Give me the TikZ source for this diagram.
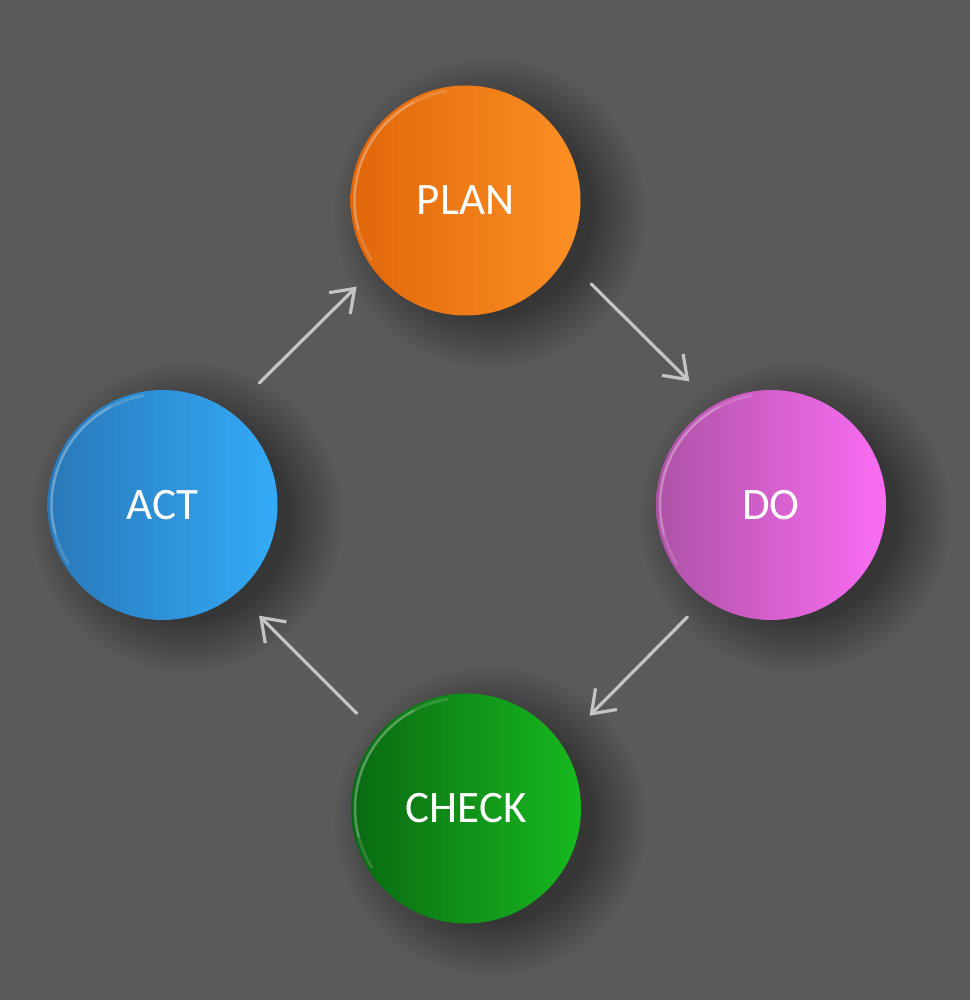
\documentclass[tikz,border=0pt]{standalone}
\usepackage{fontspec}
\setmainfont{Carlito}
\usetikzlibrary{arrows.meta}
\definecolor{bg}{HTML}{5A5A5A}
\definecolor{shadowc}{HTML}{363636}
\definecolor{arrowc}{HTML}{C4C4C4}
\definecolor{planL}{HTML}{E0660A}
\definecolor{planR}{HTML}{FC9024}
\definecolor{doL}{HTML}{AE52A6}
\definecolor{doR}{HTML}{FB6DF4}
\definecolor{checkL}{HTML}{0A6912}
\definecolor{checkR}{HTML}{17B91F}
\definecolor{actL}{HTML}{2978B8}
\definecolor{actR}{HTML}{34ABF8}
\pgfdeclareradialshading{glow}{\pgfpoint{0bp}{0bp}}{color(0bp)=(shadowc); color(16bp)=(shadowc); color(25bp)=(bg); color(50bp)=(bg)}
\tikzset{
  disc/.style={circle, minimum size=230pt, inner sep=0pt, outer sep=0pt, text=white,
    font=\fontsize{45}{54}\selectfont},
  flow/.style={draw=arrowc, line width=3.2pt, line cap=round,
    -{Straight Barb[length=21pt, width=30pt, line width=3.2pt]}},
  hl/.style={draw=white, line cap=round},
  shadowdisc/.style={shading=glow}
}
\begin{document}
\begin{tikzpicture}[x=1pt,y=1pt]
\fill[bg] (0,0) rectangle (970,1000);
\useasboundingbox (0,0) rectangle (970,1000);
% centres
\coordinate (cp) at (465.5,799.5);
\coordinate (cd) at (771,495);
\coordinate (cc) at (466,191.5);
\coordinate (ca) at (162.5,495);
% shadows
\foreach \c in {cp,cd,cc,ca}{
  \shade[shadowdisc] ([shift={(24,-12)}]\c) circle (158);
}
% discs
\node[disc, left color=planL, right color=planR] (plan) at (cp) {PLAN};
\node[disc, left color=doL, right color=doR] (do) at (cd) {DO};
\node[disc, left color=checkL, right color=checkR] (check) at (cc) {CHECK};
\node[disc, left color=actL, right color=actR] (act) at (ca) {ACT};
% highlights
\foreach \n in {plan,do,check,act}{
  \draw[hl, opacity=0.15, line width=3pt] (\n.center) ++(212:111) arc[start angle=212, end angle=100, radius=111];
  \draw[hl, opacity=0.2, line width=2pt] (\n.center) ++(195:111) arc[start angle=195, end angle=118, radius=111];
}
% connectors
\draw[flow, shorten <=37pt, shorten >=34pt] (plan.-30.8) -- (do.120.8);
\draw[flow, shorten <=25pt, shorten >=40pt] (do.-125.1) -- (check.34.7);
\draw[flow, shorten <=30pt, shorten >=32pt] (check.140.6) -- (act.-50.8);
\draw[flow, shorten <=41pt, shorten >=24pt] (act.54.7) -- (plan.-143.5);
\end{tikzpicture}
\end{document}
